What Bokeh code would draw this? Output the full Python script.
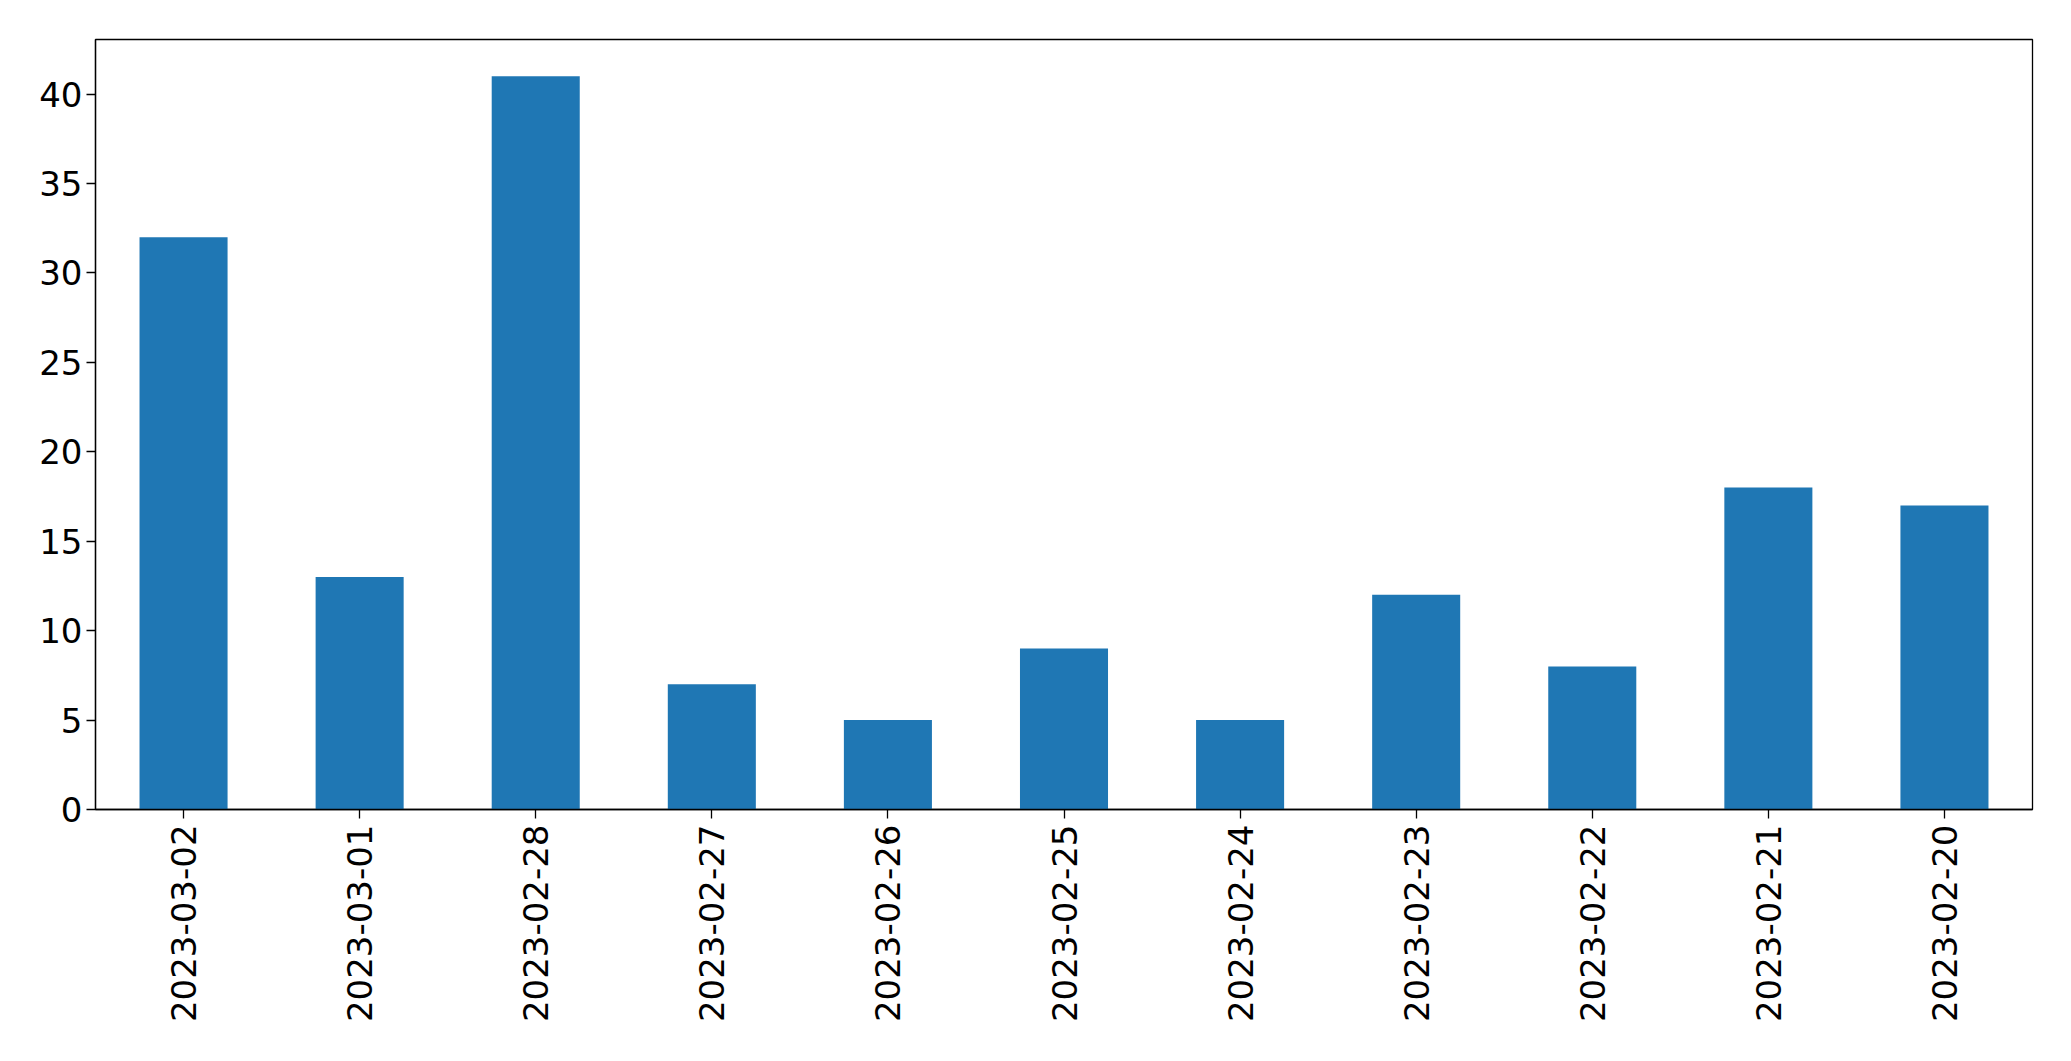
import math
from bokeh.plotting import figure
from bokeh.models import Range1d, FactorRange, FixedTicker, ColumnDataSource
from bokeh.embed import file_html
from bokeh.resources import INLINE

dates = ["2023-03-02", "2023-03-01", "2023-02-28", "2023-02-27", "2023-02-26",
         "2023-02-25", "2023-02-24", "2023-02-23", "2023-02-22", "2023-02-21",
         "2023-02-20"]
counts = [32, 13, 41, 7, 5, 9, 5, 12, 8, 18, 17]
y_ticks = [0, 5, 10, 15, 20, 25, 30, 35, 40]

src = ColumnDataSource(dict(x=dates, top=counts))

p = figure(
    x_range=FactorRange(factors=dates, range_padding=0),
    y_range=Range1d(0, max(counts) * 1.05),
    frame_width=1937, frame_height=770,
    min_border_left=95, min_border_top=39, min_border_right=30, min_border_bottom=225,
    output_backend="svg", toolbar_location=None,
    background_fill_color="white", border_fill_color="white",
)

p.vbar(x="x", top="top", width=0.5, source=src, color="#1f77b4", line_color=None)

p.xgrid.visible = False
p.ygrid.visible = False
p.outline_line_color = "black"
p.outline_line_width = 1.3
p.outline_line_alpha = 1

p.xaxis.major_label_text_font = "DejaVu Sans"
p.xaxis.major_label_text_font_size = "34px"
p.yaxis.major_label_text_font = "DejaVu Sans"
p.yaxis.major_label_text_font_size = "34px"
for ax in (p.xaxis[0], p.yaxis[0]):
    ax.major_label_text_color = "black"
    ax.axis_line_color = "black"
    ax.axis_line_width = 1.3
    ax.major_tick_line_color = "black"
    ax.major_tick_line_width = 1.3
    ax.major_tick_out = 9
    ax.major_tick_in = 0
    ax.minor_tick_line_color = None

p.yaxis.ticker = FixedTicker(ticks=y_ticks)
p.yaxis.major_label_standoff = 4
p.xaxis.major_label_orientation = math.pi / 2
p.xaxis.major_label_standoff = 6

open("out.html", "w").write(file_html(p, INLINE))
